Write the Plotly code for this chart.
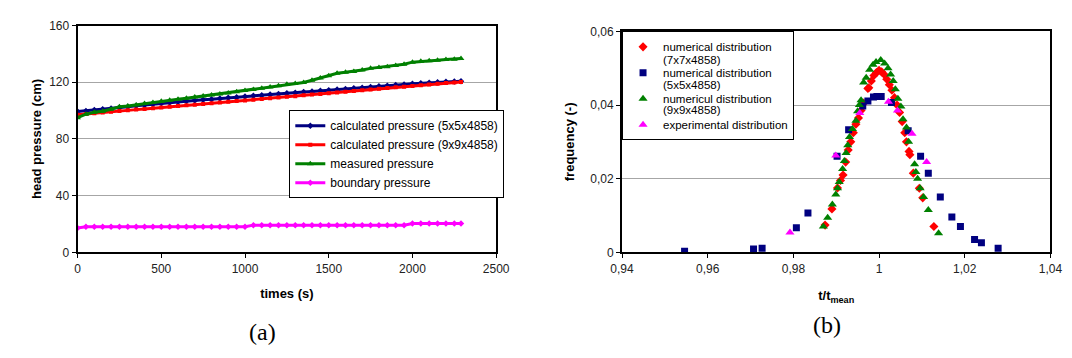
import plotly.graph_objects as go

# ---------------- (a) head pressure vs time ----------------
time_s = [0, 50, 100, 150, 200, 250, 300, 350, 400, 450, 500, 550, 600, 650, 700, 750,
          800, 850, 900, 950, 1000, 1050, 1100, 1150, 1200, 1250, 1300, 1350, 1400, 1450,
          1500, 1550, 1600, 1650, 1700, 1750, 1800, 1850, 1900, 1950, 2000, 2050, 2100,
          2150, 2200, 2250, 2290]

calc_5x5 = [99.3, 99.8, 100.4, 100.9, 101.5, 102.2, 102.8, 103.4, 104.0, 104.6, 105.2,
            105.7, 106.2, 106.7, 107.2, 107.7, 108.1, 108.6, 109.0, 109.5, 109.9, 110.4,
            110.8, 111.3, 111.7, 112.2, 112.6, 113.1, 113.5, 114.0, 114.4, 114.9, 115.3,
            115.8, 116.2, 116.7, 117.1, 117.6, 118.0, 118.5, 118.9, 119.3, 119.7, 120.0,
            120.3, 120.6, 120.8]

calc_9x9 = [97.0, 97.6, 98.2, 98.7, 99.2, 99.7, 100.2, 100.7, 101.2, 101.7, 102.2,
            102.7, 103.2, 103.7, 104.2, 104.7, 105.2, 105.7, 106.2, 106.7, 107.2, 107.7,
            108.2, 108.7, 109.2, 109.7, 110.2, 110.8, 111.3, 111.8, 112.3, 112.8, 113.3,
            113.8, 114.3, 114.9, 115.4, 115.9, 116.4, 116.9, 117.4, 117.9, 118.4, 118.9,
            119.4, 119.8, 120.2]

measured = [95.0, 97.5, 98.8, 99.6, 101.0, 102.8, 103.3, 104.0, 105.0, 105.8, 106.6,
            107.3, 108.0, 108.8, 109.6, 110.3, 111.0, 111.8, 112.5, 113.3, 114.1, 114.9,
            115.8, 116.6, 117.6, 118.6, 119.2, 119.8, 121.4, 123.0, 124.6, 126.3, 127.0,
            127.6, 128.7, 129.8, 130.4, 131.0, 131.8, 132.7, 134.2, 134.8, 135.2, 135.6,
            136.0, 136.3, 136.8]

boundary = [17.2, 18.0, 18.0, 18.0, 18.0, 18.0, 18.0, 18.0, 18.0, 18.0, 18.0, 18.0,
            18.0, 18.0, 18.0, 18.0, 18.0, 18.0, 18.0, 18.0, 18.0, 19.2, 19.2, 19.2, 19.2,
            19.2, 19.2, 19.2, 19.2, 19.2, 19.2, 19.2, 19.2, 19.2, 19.2, 19.2, 19.2, 19.2,
            19.2, 19.2, 20.4, 20.4, 20.4, 20.4, 20.4, 20.4, 20.4]

a_xticks = [0, 500, 1000, 1500, 2000, 2500]
a_yticks = [0, 40, 80, 120, 160]

# ---------------- (b) frequency distributions ----------------
red_x = [0.9874, 0.9890, 0.9903, 0.9910, 0.9916, 0.9922, 0.9928, 0.9934, 0.9940, 0.9946,
         0.9952, 0.9958, 0.9964, 0.9974, 0.9976, 0.9982, 0.9988, 0.9994, 1.0000, 1.0006,
         1.0012, 1.0018, 1.0024, 1.0030, 1.0036, 1.0042, 1.0048, 1.0054, 1.0060, 1.0064,
         1.0070, 1.0072, 1.0080, 1.0094, 1.0102, 1.0128]
red_y = [0.0074, 0.0118, 0.0175, 0.0195, 0.0210, 0.0245, 0.0278, 0.0300, 0.0325, 0.0348,
         0.0365, 0.0385, 0.0405, 0.0445, 0.0447, 0.0465, 0.0480, 0.0488, 0.0494, 0.0490,
         0.0483, 0.0470, 0.0455, 0.0440, 0.0420, 0.0400, 0.0380, 0.0355, 0.0325, 0.0300,
         0.0274, 0.0265, 0.0215, 0.0174, 0.0148, 0.0070]

blue_x = [0.9546, 0.9707, 0.9727, 0.9807, 0.9834, 0.9902, 0.9929, 0.9962, 0.9974, 0.9987,
          0.9995, 1.0005, 1.0029, 1.0068, 1.0097, 1.0115, 1.0143, 1.0170, 1.0190, 1.0223,
          1.0239, 1.0278]
blue_y = [0.0003, 0.0009, 0.0011, 0.0067, 0.0107, 0.0261, 0.0333, 0.0397, 0.0411, 0.0422,
          0.0423, 0.0423, 0.0407, 0.0330, 0.0261, 0.0215, 0.0150, 0.0096, 0.0070, 0.0035,
          0.0026, 0.0011]

green_x = [0.9870, 0.9880, 0.9891, 0.9899, 0.9903, 0.9907, 0.9915, 0.9919, 0.9923, 0.9927,
           0.9931, 0.9938, 0.9946, 0.9950, 0.9954, 0.9958, 0.9964, 0.9970, 0.9978, 0.9986,
           0.9993, 1.0004, 1.0013, 1.0021, 1.0027, 1.0033, 1.0038, 1.0044, 1.0051, 1.0056,
           1.0064, 1.0069, 1.0083, 1.0086, 1.0090, 1.0096, 1.0104, 1.0115, 1.0139]
green_y = [0.0070, 0.0094, 0.0130, 0.0157, 0.0174, 0.0191, 0.0226, 0.0248, 0.0270, 0.0291,
           0.0313, 0.0335, 0.0357, 0.0383, 0.0400, 0.0413, 0.0461, 0.0474, 0.0496, 0.0509,
           0.0517, 0.0522, 0.0513, 0.0500, 0.0483, 0.0465, 0.0443, 0.0417, 0.0396, 0.0361,
           0.0339, 0.0300, 0.0239, 0.0218, 0.0200, 0.0174, 0.0150, 0.0115, 0.0052]

exp_x = [0.9792, 0.9899, 0.9955, 1.0022, 1.0043, 1.0077, 1.0111]
exp_y = [0.0054, 0.0263, 0.0378, 0.0409, 0.0385, 0.0322, 0.0245]

b_names = ["numerical distribution", "numerical distribution",
           "numericul distribution", "experimental distribution"]
b_name_suffix = ["(7x7x4858)", "(5x5x4858)", "(9x9x4858)"]

b_xticks = [0.94, 0.96, 0.98, 1.00, 1.02, 1.04]
b_xlabels = ["0,94", "0,96", "0,98", "1", "1,02", "1,04"]
b_yticks = [0, 0.02, 0.04, 0.06]
b_ylabels = ["0", "0,02", "0,04", "0,06"]

W, H = 1072, 358
FONT = "Liberation Sans, Arial, sans-serif"
SERIF = "Liberation Serif, Times New Roman, serif"


def px_x(p):
    return p / W


def px_y(p):
    return 1 - p / H


fig = go.Figure()

# (a) traces
fig.add_trace(go.Scatter(x=time_s, y=calc_5x5, mode="lines+markers",
                         name="calculated pressure (5x5x4858)",
                         line=dict(color="#000080", width=3),
                         marker=dict(symbol="diamond", size=5, color="#000080"),
                         xaxis="x", yaxis="y", legend="legend"))
fig.add_trace(go.Scatter(x=time_s, y=calc_9x9, mode="lines+markers",
                         name="calculated pressure (9x9x4858)",
                         line=dict(color="#FF0000", width=3),
                         marker=dict(symbol="square", size=4, color="#FF0000"),
                         xaxis="x", yaxis="y", legend="legend"))
fig.add_trace(go.Scatter(x=time_s, y=measured, mode="lines+markers",
                         name="measured pressure",
                         line=dict(color="#008000", width=3),
                         marker=dict(symbol="triangle-up", size=6, color="#008000"),
                         xaxis="x", yaxis="y", legend="legend"))
fig.add_trace(go.Scatter(x=time_s, y=boundary, mode="lines+markers",
                         name="boundary pressure",
                         line=dict(color="#FF00FF", width=3),
                         marker=dict(symbol="diamond", size=5, color="#FF00FF"),
                         xaxis="x", yaxis="y", legend="legend"))

# (b) traces
b_series = [(red_x, red_y, "diamond", 7, "#FF0000"),
            (blue_x, blue_y, "square", 7, "#000080"),
            (green_x, green_y, "triangle-up", 8, "#008000"),
            (exp_x, exp_y, "triangle-up", 8, "#FF00FF")]
for i, (bx, by, sym, sz, col) in enumerate(b_series):
    fig.add_trace(go.Scatter(x=bx, y=by, mode="markers", name=b_names[i],
                             legendgroup="g%d" % i,
                             marker=dict(symbol=sym, size=sz, color=col),
                             xaxis="x2", yaxis="y2", legend="legend2"))

axis_common = dict(showline=True, linecolor="black", linewidth=2, mirror=True,
                   ticks="outside", ticklen=4, tickcolor="black", tickwidth=1,
                   tickfont=dict(family=FONT, size=12, color="#222"), zeroline=False)

# legend 2 geometry (px) used for the wrapped second lines of the entries
LEG2_TOP = 17
LEG2_GAP = 7
LEG2_STEP = 19 + LEG2_GAP
LEG2_FIRST = LEG2_TOP + 16
annotations = [
    dict(text="(a)", x=px_x(233), y=px_y(345), xref="paper", yref="paper",
         showarrow=False, font=dict(family=SERIF, size=24, color="black")),
    dict(text="(b)", x=px_x(843), y=px_y(338), xref="paper", yref="paper",
         showarrow=False, font=dict(family=SERIF, size=24, color="black")),
]
for k, suf in enumerate(b_name_suffix):
    annotations.append(dict(text=suf, x=px_x(657), y=px_y(LEG2_FIRST + 14 + k * LEG2_STEP),
                            xref="paper", yref="paper", xanchor="left", yanchor="middle",
                            showarrow=False,
                            font=dict(family=FONT, size=11.5, color="black")))

fig.update_layout(
    width=W, height=H,
    margin=dict(l=0, r=0, t=0, b=0),
    paper_bgcolor="white", plot_bgcolor="white",
    font=dict(family=FONT, size=12, color="black"),
    xaxis=dict(domain=[px_x(59), px_x(488)], range=[0, 2500],
               tickvals=a_xticks, ticktext=[str(v) for v in a_xticks],
               showgrid=False, anchor="y",
               title=dict(text="<b>times (s)</b>", font=dict(size=13), standoff=14),
               **axis_common),
    yaxis=dict(domain=[px_y(247), px_y(11)], range=[0, 160],
               tickvals=a_yticks, ticktext=[str(v) for v in a_yticks],
               showgrid=True, gridcolor="#a6a6a6", gridwidth=1, anchor="x",
               title=dict(text="<b>head pressure (cm)</b>", font=dict(size=13), standoff=5),
               **axis_common),
    xaxis2=dict(domain=[px_x(617), px_x(1056)], range=[0.94, 1.04],
                tickvals=b_xticks, ticktext=b_xlabels,
                showgrid=False, anchor="y2",
                title=dict(text="<b>t/t<sub>mean</sub></b>", font=dict(size=13), standoff=16),
                **axis_common),
    yaxis2=dict(domain=[px_y(247), px_y(17)], range=[0, 0.06],
                tickvals=b_yticks, ticktext=b_ylabels,
                showgrid=True, gridcolor="#a6a6a6", gridwidth=1, anchor="x2",
                title=dict(text="<b>frequency (-)</b>", font=dict(size=13), standoff=13),
                **axis_common),
    legend=dict(x=px_x(276), y=px_y(99), xanchor="left", yanchor="top",
                bgcolor="white", bordercolor="black", borderwidth=1,
                font=dict(family=FONT, size=12, color="black"),
                itemwidth=30, tracegroupgap=0),
    legend2=dict(x=px_x(617), y=px_y(LEG2_TOP), xanchor="left", yanchor="top",
                 bgcolor="white", bordercolor="black", borderwidth=1,
                 font=dict(family=FONT, size=11.5, color="black"),
                 itemwidth=30, tracegroupgap=LEG2_GAP),
    showlegend=True,
    annotations=annotations,
)

fig.write_html("out.html")
